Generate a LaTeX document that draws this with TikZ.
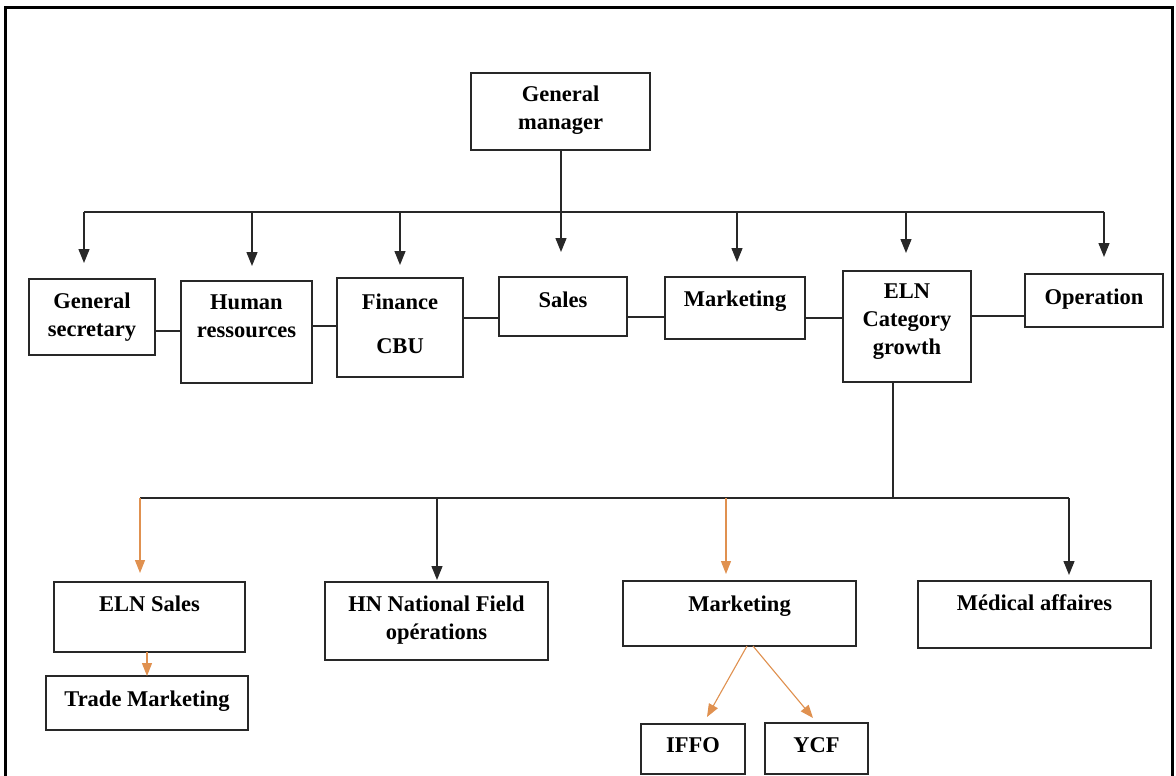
\documentclass[tikz,border=0pt]{standalone}
\usepackage{fontspec}
\setmainfont{Liberation Serif}
\usetikzlibrary{arrows.meta}
\definecolor{orgline}{RGB}{40,40,40}
\definecolor{orgorange}{RGB}{224,145,80}
\newcommand\orgbox[7]{\node[orgbox, anchor=north west] (#1) at (#2,#3)
  {\parbox[c][\dimexpr#5pt-#3pt\relax][t]{\dimexpr#4pt-#2pt\relax}{\centering\vspace*{#6pt}#7\par}};}
\begin{document}
\begin{tikzpicture}[x=1pt,y=-1pt,
  orgbox/.style={draw=orgline, line width=1.5pt, inner sep=0pt, outer sep=0pt,
    font=\fontsize{22.5}{28}\selectfont\bfseries},
  link/.style={draw=orgline, line width=1.3pt},
  arr/.style={link, -{Triangle[width=11pt,length=14pt]}},
  oarr/.style={draw=orgorange, line width=1.1pt, -{Triangle[width=10pt,length=13pt]}}]
\useasboundingbox (0,0) rectangle (1176,776);
\fill[white] (0,0) rectangle (1176,776);
\draw[line width=3pt] (5,776) -- (5,8) -- (1172,8) -- (1172,776);

% top level
\orgbox{gm}{471}{73}{650}{150}{13}{General\\manager}
\orgbox{gs}{29}{279}{155}{355}{13.5}{General\\secretary}
\orgbox{hr}{181}{281}{312}{383}{13.5}{Human\\ressources}
\orgbox{fin}{337}{278}{463}{377}{15.5}{Finance\\[16pt]CBU}
\orgbox{sales}{499}{277}{627}{336}{14.5}{Sales}
\orgbox{mkt}{665}{277}{805}{339}{13.5}{Marketing}
\orgbox{eln}{843}{271}{971}{382}{12.5}{ELN\\Category\\growth}
\orgbox{op}{1025}{274}{1163}{327}{14.5}{Operation}

% second level
\orgbox{elnsales}{54}{582}{245}{652}{13.5}{ELN Sales}
\orgbox{trade}{46}{676}{248}{730}{14.5}{Trade Marketing}
\orgbox{hn}{325}{582}{548}{660}{13.5}{HN National Field\\op\'erations}
\orgbox{mkt2}{623}{581}{856}{646}{14.5}{Marketing}
\orgbox{med}{918}{581}{1151}{648}{13.5}{M\'edical affaires}
\orgbox{iffo}{641}{724}{745}{774}{13.5}{IFFO}
\orgbox{ycf}{765}{723}{868}{774}{14.5}{YCF}

% top bus
\coordinate (b1) at (84,212);
\coordinate (b2) at (252,212);
\coordinate (b3) at (400,212);
\coordinate (b5) at (737,212);
\coordinate (b6) at (906,212);
\coordinate (b7) at (1104,212);
\draw[link] (b1) -- (b7);
\draw[arr, shorten >=25pt] ([xshift=0.5pt]gm.south) -- ([xshift=0.5pt]gm.south |- sales.north);
\draw[arr, shorten >=16pt] (b1) -- (b1 |- gs.north);
\draw[arr, shorten >=15pt] (b2) -- (b2 |- hr.north);
\draw[arr, shorten >=13pt] (b3) -- (b3 |- fin.north);
\draw[arr, shorten >=15pt] (b5) -- (b5 |- mkt.north);
\draw[arr, shorten >=18pt] (b6) -- (b6 |- eln.north);
\draw[arr, shorten >=17pt] (b7) -- (b7 |- op.north);

% side links
\draw[link] (gs.east |- 0,331) -- (hr.west |- 0,331);
\draw[link] (hr.east |- 0,326) -- (fin.west |- 0,326);
\draw[link] (fin.east |- 0,318) -- (sales.west |- 0,318);
\draw[link] (sales.east |- 0,317) -- (mkt.west |- 0,317);
\draw[link] (mkt.east |- 0,318) -- (eln.west |- 0,318);
\draw[link] (eln.east |- 0,316) -- (op.west |- 0,316);

% lower bus
\coordinate (l0) at (893,498);
\coordinate (l1) at (140,498);
\coordinate (l2) at (437,498);
\coordinate (l3) at (726,498);
\coordinate (l4) at (1069,498);
\draw[link] (eln.south -| l0) -- (l0);
\draw[link] (l1) -- (l4);
\draw[oarr, shorten >=9pt] (l1) -- (l1 |- elnsales.north);
\draw[arr, shorten >=2pt] (l2) -- (l2 |- hn.north);
\draw[oarr, shorten >=7pt] (l3) -- (l3 |- mkt2.north);
\draw[arr, shorten >=6pt] (l4) -- (l4 |- med.north);

\draw[oarr] ([xshift=-2.5pt]elnsales.south) -- ([xshift=-2.5pt]elnsales.south |- trade.north);
\draw[oarr] ([xshift=7.5pt]mkt2.south) -- ([xshift=14pt,yshift=7pt]iffo.north);
\draw[oarr] ([xshift=13.5pt]mkt2.south) -- ([xshift=-3.5pt,yshift=5pt]ycf.north);
\end{tikzpicture}
\end{document}
